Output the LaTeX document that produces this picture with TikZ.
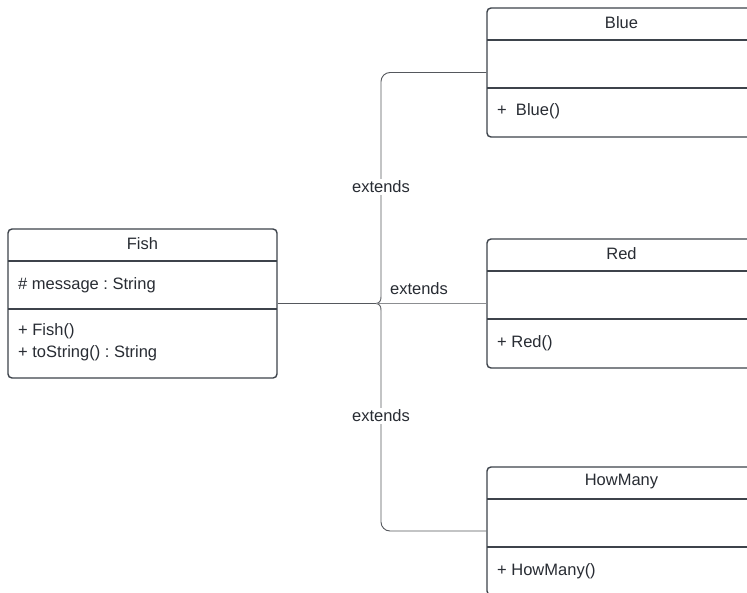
\documentclass[tikz,border=0pt]{standalone}
\usepackage{fontspec}
\setmainfont{Liberation Sans}
\frenchspacing
\definecolor{boxline}{HTML}{3D434B}
\definecolor{txt}{HTML}{282C33}
\definecolor{conn}{HTML}{55585D}
\definecolor{connlight}{HTML}{8C8E91}
\begin{document}
\begin{tikzpicture}[x=1pt,y=-1pt,
  umlbox/.style={draw=boxline,line width=1.4pt,rounded corners=4pt,fill=white,inner sep=0pt},
  divider/.style={draw=boxline,line width=1.4pt},
  lbl/.style={text=txt,font=\fontsize{16.5}{19}\selectfont,inner sep=1pt},
  rowtxt/.style={lbl,anchor=west},
  connline/.style={draw=conn,line width=0.9pt},
  extlbl/.style={lbl,fill=white,inner sep=2pt}]
\useasboundingbox (0,0) rectangle (747,592);
\clip (0,0) rectangle (747,592);
\fill[white] (0,0) rectangle (747,592);

% Fish
\node[umlbox,minimum width=269pt,minimum height=149pt] (fish) at (142.5,303.5) {};
\draw[divider] (8,261) -- (277,261);
\draw[divider] (8,309) -- (277,309);
\node[lbl] (fishT) at (142.5,243.5) {Fish};
\node[rowtxt] (fishA) at (17,285) {\# message : String};
\node[rowtxt] (fishM1) at (17,331) {+ Fish()};
\node[rowtxt] (fishM2) at (17,353) {+ toString() : String};

% Blue
\node[umlbox,minimum width=269pt,minimum height=129pt] (blue) at (621.5,72.5) {};
\draw[divider] (487,40) -- (756,40);
\draw[divider] (487,88) -- (756,88);
\node[lbl] (blueT) at (621.5,23) {Blue};
\node[rowtxt] (blueM) at (496,111) {+\ \ Blue()};

% Red
\node[umlbox,minimum width=269pt,minimum height=129pt] (red) at (621.5,303.5) {};
\draw[divider] (487,271) -- (756,271);
\draw[divider] (487,319) -- (756,319);
\node[lbl] (redT) at (621.5,254) {Red};
\node[rowtxt] (redM) at (496,343) {+ Red()};

% HowMany
\node[umlbox,minimum width=269pt,minimum height=128pt] (howmany) at (621.5,531) {};
\draw[divider] (487,499) -- (756,499);
\draw[divider] (487,547) -- (756,547);
\node[lbl] (howT) at (621.5,482) {HowMany};
\node[rowtxt] (howM) at (496,571) {+ HowMany()};

% connectors
\coordinate (j) at (376,303.5);
\coordinate (up) at (381,297);
\coordinate (dn) at (381,310);
\draw[connline] (fish.east) -- (j);
\draw[connline] (j) .. controls (379.5,303) and (381,301) .. (up);
\draw[connline] (j) .. controls (379.5,304) and (381,306) .. (dn);
\draw[connline,rounded corners=9pt] (up) |- (blue.west);
\draw[connline,rounded corners=9pt] (dn) |- (howmany.west);
\draw[draw=connlight,line width=0.8pt] (j) -- (red.west);

\node[extlbl] (ext1) at (381,187) {extends};
\node[extlbl] (ext3) at (381,416) {extends};
\node[lbl] (ext2) at (419,289) {extends};
\end{tikzpicture}
\end{document}
